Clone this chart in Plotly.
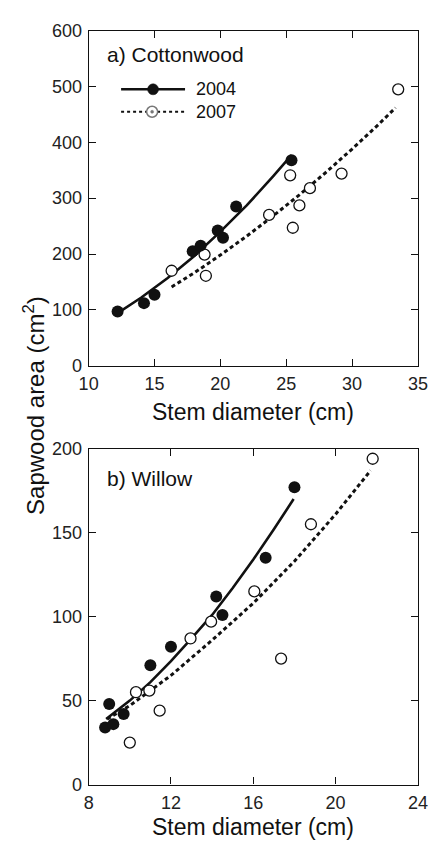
import plotly.graph_objects as go

# ---- Panel a) Cottonwood ----
cw04_x = [12.2, 14.2, 15.0, 17.9, 18.5, 19.8, 20.2, 21.2, 25.4]
cw04_y = [97, 112, 127, 205, 215, 242, 229, 285, 368]
cw07_x = [16.3, 18.8, 18.9, 23.7, 25.3, 25.5, 26.0, 26.8, 29.2, 33.5]
cw07_y = [170, 199, 161, 270, 341, 247, 287, 318, 344, 495]
cw04_fit_x = [12.2, 14, 16, 18, 20, 22, 24, 25.4]
cw04_fit_y = [94, 122, 157, 196, 240, 287, 339, 377]
cw07_fit_x = [16.3, 18, 20, 22, 24, 26, 28, 30, 32, 33.3]
cw07_fit_y = [141, 166, 198, 232, 268, 306, 346, 388, 432, 462]

# ---- Panel b) Willow ----
wl04_x = [8.8, 9.0, 9.2, 9.7, 11.0, 12.0, 14.2, 14.5, 16.6, 18.0]
wl04_y = [34, 48, 36, 42, 71, 82, 112, 101, 135, 177]
wl07_x = [10.0, 10.3, 10.95, 11.45, 12.95, 13.95, 16.05, 17.35, 18.8, 21.8]
wl07_y = [25, 55, 56, 44, 87, 97, 115, 75, 155, 194]
wl04_fit_x = [8.85, 10, 11, 12, 13, 14, 15, 16, 17, 17.96]
wl04_fit_y = [39, 50, 61, 73.5, 87, 101, 117, 134, 152, 170]
wl07_fit_x = [8.9, 10, 12, 14, 16, 18, 20, 21.7]
wl07_fit_y = [39, 47, 65, 86, 108, 133, 161, 187]

year_labels = ["2004", "2007"]
panel_titles = ["a) Cottonwood", "b) Willow"]
x_title = "Stem diameter (cm)"
y_title = "Sapwood area (cm<sup>2</sup>)"
x_ticks_a = [10, 15, 20, 25, 30, 35]
y_ticks_a = [0, 100, 200, 300, 400, 500, 600]
x_ticks_b = [8, 12, 16, 20, 24]
y_ticks_b = [0, 50, 100, 150, 200]

# page geometry (the browser page adds an 8px body margin)
W, H, OFF = 440, 853, 8


def fx(px):
    return (px - OFF) / W


def fy(py):
    return 1 - (py - OFF) / H


FONT = "Liberation Sans, Arial, Helvetica, sans-serif"
BLK = "#111111"
filled = dict(symbol="circle", size=12, color=BLK, line=dict(width=0))
opened = dict(symbol="circle", size=11, color="white", line=dict(color=BLK, width=1.3))
solid = dict(color=BLK, width=2.6)
dotted = dict(color=BLK, width=3, dash="4px,3px")

fig = go.Figure()


def add_panel(xa, ya, fx04, fy04, fx07, fy07, x07, y07, x04, y04):
    fig.add_trace(go.Scatter(x=fx04, y=fy04, mode="lines", line=solid,
                             showlegend=False, xaxis=xa, yaxis=ya, hoverinfo="skip"))
    fig.add_trace(go.Scatter(x=fx07, y=fy07, mode="lines", line=dotted,
                             showlegend=False, xaxis=xa, yaxis=ya, hoverinfo="skip"))
    fig.add_trace(go.Scatter(x=x07, y=y07, mode="markers", marker=opened, name=year_labels[1],
                             showlegend=False, xaxis=xa, yaxis=ya))
    fig.add_trace(go.Scatter(x=x04, y=y04, mode="markers", marker=filled, name=year_labels[0],
                             showlegend=False, xaxis=xa, yaxis=ya))


add_panel("x", "y", cw04_fit_x, cw04_fit_y, cw07_fit_x, cw07_fit_y,
          cw07_x, cw07_y, cw04_x, cw04_y)
add_panel("x2", "y2", wl04_fit_x, wl04_fit_y, wl07_fit_x, wl07_fit_y,
          wl07_x, wl07_y, wl04_x, wl04_y)

axis_common = dict(showgrid=False, zeroline=False, showline=True, linecolor=BLK,
                   linewidth=1.2, mirror="ticks", ticks="inside", ticklen=7,
                   tickwidth=1, tickcolor=BLK, ticklabelstandoff=2,
                   tickfont=dict(family=FONT, size=18, color="#222222"))

xdom = [fx(82), fx(427)]

# manual legend (longer sample lines than Plotly's built-in legend)
leg_rows = [81, 104]
shapes = [
    dict(type="line", xref="paper", yref="paper", x0=fx(116), x1=fx(183),
         y0=fy(leg_rows[0]), y1=fy(leg_rows[0]), line=dict(color=BLK, width=2.6)),
    dict(type="line", xref="paper", yref="paper", x0=fx(116), x1=fx(182),
         y0=fy(leg_rows[1]), y1=fy(leg_rows[1]), line=dict(color=BLK, width=2, dash="3px,3px")),
    dict(type="circle", xref="paper", yref="paper", xsizemode="pixel", ysizemode="pixel",
         xanchor=fx(149.5), yanchor=fy(leg_rows[0]), x0=-5.5, x1=5.5, y0=-5.5, y1=5.5,
         fillcolor=BLK, line=dict(color=BLK, width=0.5)),
    dict(type="circle", xref="paper", yref="paper", xsizemode="pixel", ysizemode="pixel",
         xanchor=fx(148.5), yanchor=fy(leg_rows[1]), x0=-5.5, x1=5.5, y0=-5.5, y1=5.5,
         fillcolor="white", line=dict(color="#777777", width=1.5)),
    dict(type="circle", xref="paper", yref="paper", xsizemode="pixel", ysizemode="pixel",
         xanchor=fx(148.5), yanchor=fy(leg_rows[1]), x0=-1.5, x1=1.5, y0=-1.5, y1=1.5,
         fillcolor="#777777", line=dict(color="#777777", width=0.5)),
]

annotations = [
    dict(text=year_labels[0], x=fx(192), y=fy(leg_rows[0]), xanchor="left", yanchor="middle",
         font=dict(size=18)),
    dict(text=year_labels[1], x=fx(192), y=fy(leg_rows[1]), xanchor="left", yanchor="middle",
         font=dict(size=18)),
    dict(text=panel_titles[0], x=fx(99), y=fy(45), xanchor="left", yanchor="middle",
         font=dict(size=21)),
    dict(text=panel_titles[1], x=fx(99), y=fy(480), xanchor="left", yanchor="middle",
         font=dict(size=21)),
    dict(text=x_title, x=fx(254.5), y=fy(411), xanchor="center", yanchor="middle",
         font=dict(size=23)),
    dict(text=x_title, x=fx(254.5), y=fy(836), xanchor="center", yanchor="middle",
         font=dict(size=23)),
    dict(text=y_title, x=fx(24), y=fy(405), textangle=-90, xanchor="center", yanchor="middle",
         font=dict(size=24)),
]
for a in annotations:
    a.update(xref="paper", yref="paper", showarrow=False)
    a["font"].update(family=FONT, color=BLK)

fig.update_layout(
    width=W, height=H,
    margin=dict(l=0, r=0, t=0, b=0),
    paper_bgcolor="white", plot_bgcolor="white",
    font=dict(family=FONT, color=BLK),
    showlegend=False,
    xaxis=dict(domain=xdom, range=[10, 35], tickvals=x_ticks_a, anchor="y", **axis_common),
    yaxis=dict(domain=[fy(364), fy(21)], range=[0, 600], tickvals=y_ticks_a,
               anchor="x", **axis_common),
    xaxis2=dict(domain=xdom, range=[8, 24], tickvals=x_ticks_b, anchor="y2", **axis_common),
    yaxis2=dict(domain=[fy(793), fy(449)], range=[0, 200], tickvals=y_ticks_b,
                anchor="x2", **axis_common),
    shapes=shapes,
    annotations=annotations,
)

fig.write_html("out.html", config={"displayModeBar": False})
